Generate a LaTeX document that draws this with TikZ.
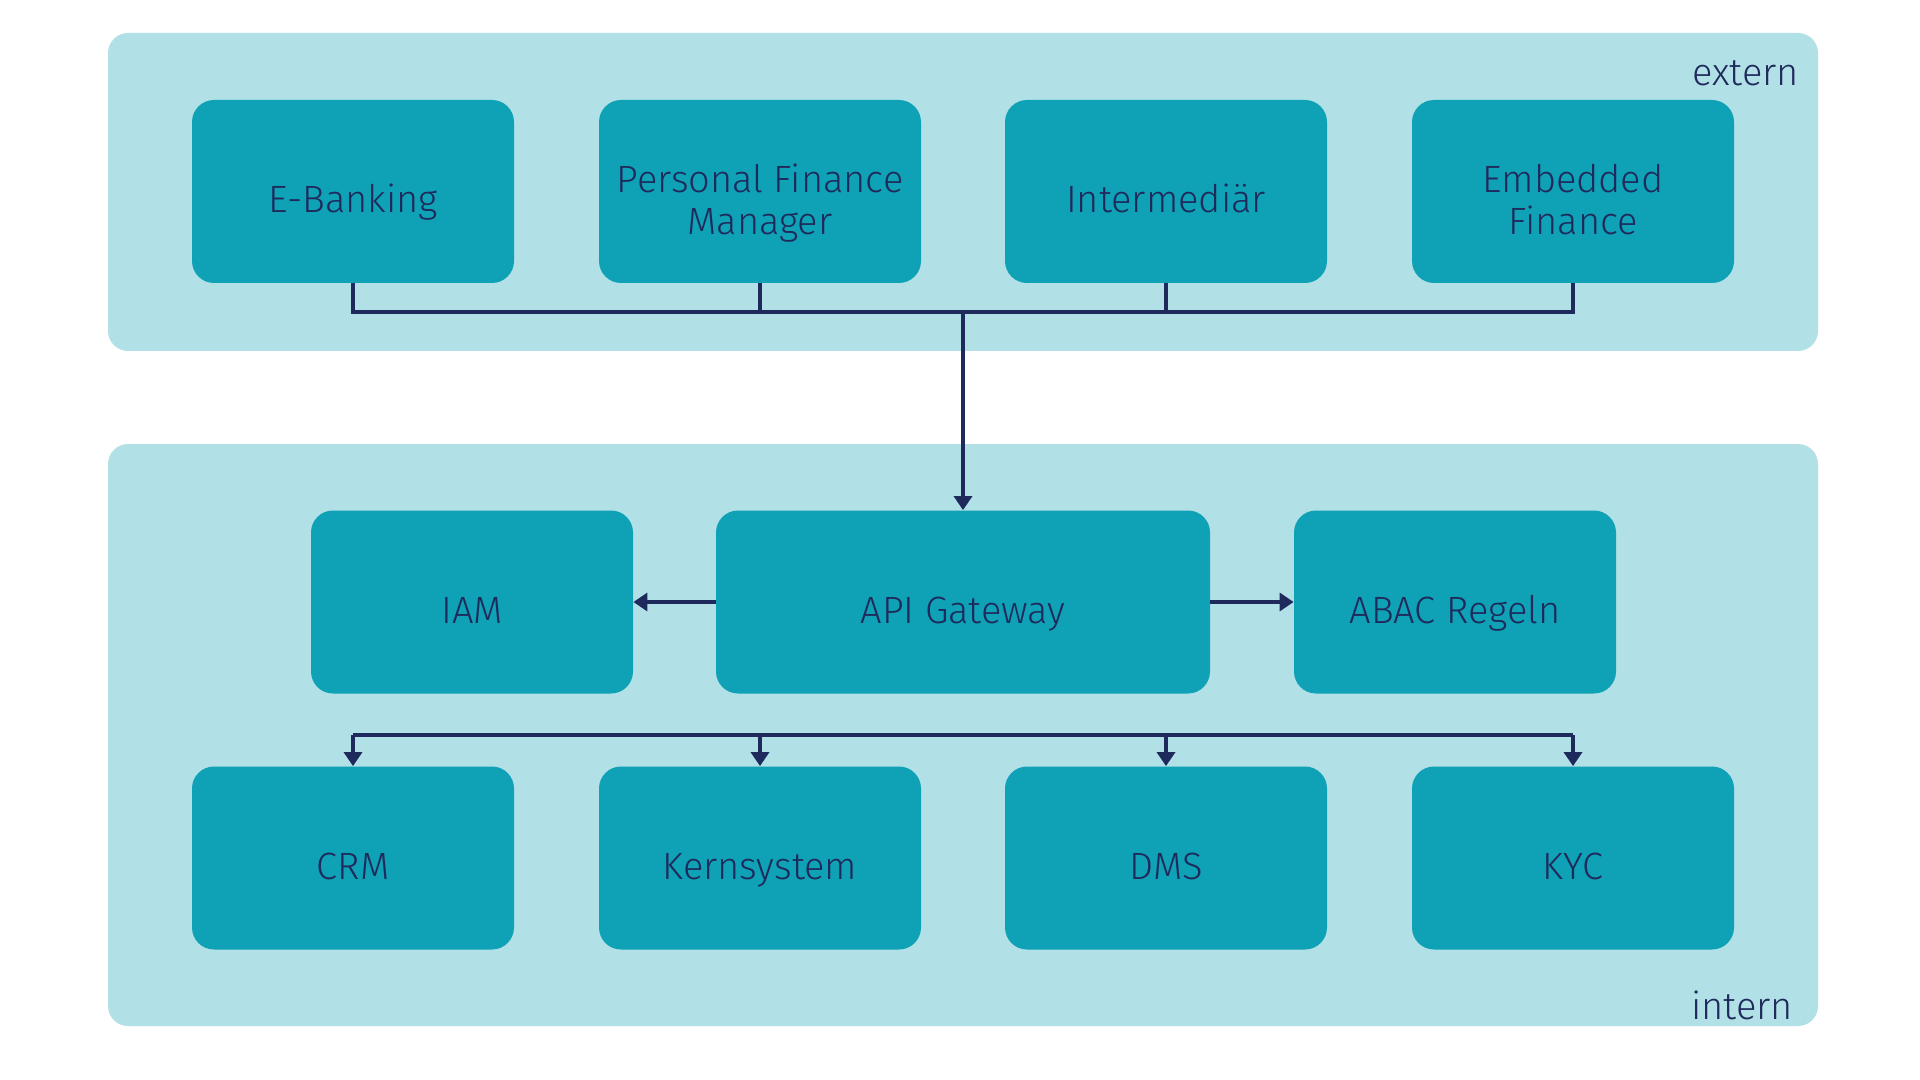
\documentclass[tikz,border=0pt]{standalone}
\usepackage{fontspec}
\setmainfont{Fira Sans Light}
\usepackage{tikz}
\usetikzlibrary{positioning, calc, arrows.meta}

\definecolor{zone}{HTML}{B1E0E6}
\definecolor{boxfill}{HTML}{0FA1B5}
\definecolor{navy}{HTML}{1F2A5C}

\tikzset{
  zonebox/.style={fill=zone, rounded corners=10pt},
  sysbox/.style={fill=boxfill, rounded corners=11pt, minimum width=161pt, minimum height=91.5pt,
    align=center, text=navy, font=\fontsize{19}{21}\selectfont, inner sep=0pt,
    execute at begin node={\rule{0pt}{27pt}}, execute at end node={\rule[-6pt]{0pt}{0pt}}},
  twoline/.style={execute at begin node={\rule{0pt}{49pt}}},
  zonelabel/.style={anchor=base east, text=navy, font=\fontsize{19}{21}\selectfont},
  bus/.style={draw=navy, line width=1.7pt},
  arrow/.style={bus, -{Triangle[width=9pt,length=7pt]}}
}

\begin{document}
\begin{tikzpicture}[x=0.5pt, y=-0.5pt]
\useasboundingbox (0,0) rectangle (1920,1080);

% zones
\fill[zonebox] (108,33) rectangle (1818,351);
\fill[zonebox] (108,444) rectangle (1818,1026);
\node[zonelabel] (externlabel) at (1806,86) {extern};
\node[zonelabel] (internlabel) at (1800,1019) {intern};

% extern systems
\node[sysbox] (ebanking) at (353,191.5) {E-Banking};
\node[sysbox, twoline] (pfm) at (760,191.5) {Personal Finance\\Manager};
\node[sysbox] (intermediaer) at (1166,191.5) {Intermediär};
\node[sysbox, twoline] (embedded) at (1573,191.5) {Embedded\\Finance};

% intern core
\node[sysbox] (iam) at (472,602) {IAM};
\node[sysbox, minimum width=247pt] (gateway) at (963,602) {API Gateway};
\node[sysbox] (abac) at (1455,602) {ABAC Regeln};

% intern backends
\node[sysbox] (crm) at (353,858) {CRM};
\node[sysbox] (kern) at (760,858) {Kernsystem};
\node[sysbox] (dms) at (1166,858) {DMS};
\node[sysbox] (kyc) at (1573,858) {KYC};

% connectors
\coordinate (topbus) at (963,312);
\coordinate (botbus) at (963,735);
\foreach \n in {ebanking,pfm,intermediaer,embedded}
  \draw[bus] (\n.south) |- (topbus);
\draw[arrow] (topbus) -- (gateway.north);
\draw[arrow] (gateway.west) -- (iam.east);
\draw[arrow] (gateway.east) -- (abac.west);
\draw[bus] (crm.north |- botbus) -- (kyc.north |- botbus);
\foreach \n in {crm,kern,dms,kyc}
  \draw[arrow] (\n.north |- botbus) -- (\n.north);
\end{tikzpicture}
\end{document}
